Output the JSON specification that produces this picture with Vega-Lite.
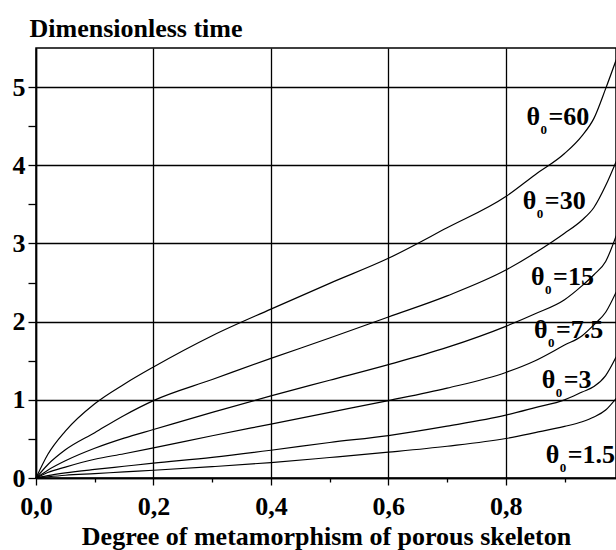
{
  "$schema": "https://vega.github.io/schema/vega-lite/v6.json",
  "width": 580,
  "height": 430,
  "autosize": {"type": "none"},
  "padding": {"left": 36, "top": 48, "right": 0, "bottom": 72},
  "background": "white",
  "config": {
    "view": {"stroke": "black", "strokeWidth": 1.5},
    "font": "Liberation Serif"
  },
  "datasets": {
    "curves": [
      {"theta": "60", "x": 0, "y": 0}, {"theta": "60", "x": 0.02, "y": 0.3}, {"theta": "60", "x": 0.05, "y": 0.6}, {"theta": "60", "x": 0.1, "y": 0.95}, {"theta": "60", "x": 0.15, "y": 1.2}, {"theta": "60", "x": 0.2, "y": 1.42}, {"theta": "60", "x": 0.3, "y": 1.82}, {"theta": "60", "x": 0.4, "y": 2.16}, {"theta": "60", "x": 0.5, "y": 2.49}, {"theta": "60", "x": 0.6, "y": 2.81}, {"theta": "60", "x": 0.7, "y": 3.2}, {"theta": "60", "x": 0.8, "y": 3.6}, {"theta": "60", "x": 0.85, "y": 3.88}, {"theta": "60", "x": 0.9, "y": 4.15}, {"theta": "60", "x": 0.93, "y": 4.38}, {"theta": "60", "x": 0.95, "y": 4.6}, {"theta": "60", "x": 0.97, "y": 4.98}, {"theta": "60", "x": 0.988, "y": 5.35},
      {"theta": "30", "x": 0, "y": 0}, {"theta": "30", "x": 0.02, "y": 0.17}, {"theta": "30", "x": 0.05, "y": 0.36}, {"theta": "30", "x": 0.1, "y": 0.58}, {"theta": "30", "x": 0.15, "y": 0.8}, {"theta": "30", "x": 0.2, "y": 0.99}, {"theta": "30", "x": 0.3, "y": 1.26}, {"theta": "30", "x": 0.4, "y": 1.53}, {"theta": "30", "x": 0.5, "y": 1.79}, {"theta": "30", "x": 0.6, "y": 2.06}, {"theta": "30", "x": 0.7, "y": 2.33}, {"theta": "30", "x": 0.8, "y": 2.66}, {"theta": "30", "x": 0.85, "y": 2.88}, {"theta": "30", "x": 0.9, "y": 3.13}, {"theta": "30", "x": 0.93, "y": 3.3}, {"theta": "30", "x": 0.95, "y": 3.46}, {"theta": "30", "x": 0.97, "y": 3.74}, {"theta": "30", "x": 0.988, "y": 4.05},
      {"theta": "15", "x": 0, "y": 0}, {"theta": "15", "x": 0.02, "y": 0.1}, {"theta": "15", "x": 0.05, "y": 0.22}, {"theta": "15", "x": 0.1, "y": 0.38}, {"theta": "15", "x": 0.15, "y": 0.51}, {"theta": "15", "x": 0.2, "y": 0.62}, {"theta": "15", "x": 0.3, "y": 0.84}, {"theta": "15", "x": 0.4, "y": 1.05}, {"theta": "15", "x": 0.5, "y": 1.25}, {"theta": "15", "x": 0.6, "y": 1.45}, {"theta": "15", "x": 0.7, "y": 1.67}, {"theta": "15", "x": 0.8, "y": 1.94}, {"theta": "15", "x": 0.85, "y": 2.1}, {"theta": "15", "x": 0.9, "y": 2.28}, {"theta": "15", "x": 0.93, "y": 2.46}, {"theta": "15", "x": 0.95, "y": 2.6}, {"theta": "15", "x": 0.97, "y": 2.77}, {"theta": "15", "x": 0.988, "y": 3.1},
      {"theta": "7.5", "x": 0, "y": 0}, {"theta": "7.5", "x": 0.02, "y": 0.07}, {"theta": "7.5", "x": 0.05, "y": 0.14}, {"theta": "7.5", "x": 0.1, "y": 0.24}, {"theta": "7.5", "x": 0.15, "y": 0.31}, {"theta": "7.5", "x": 0.2, "y": 0.385}, {"theta": "7.5", "x": 0.3, "y": 0.54}, {"theta": "7.5", "x": 0.4, "y": 0.69}, {"theta": "7.5", "x": 0.5, "y": 0.84}, {"theta": "7.5", "x": 0.6, "y": 0.99}, {"theta": "7.5", "x": 0.7, "y": 1.15}, {"theta": "7.5", "x": 0.8, "y": 1.35}, {"theta": "7.5", "x": 0.85, "y": 1.5}, {"theta": "7.5", "x": 0.9, "y": 1.7}, {"theta": "7.5", "x": 0.93, "y": 1.82}, {"theta": "7.5", "x": 0.95, "y": 1.96}, {"theta": "7.5", "x": 0.97, "y": 2.12}, {"theta": "7.5", "x": 0.988, "y": 2.38},
      {"theta": "3", "x": 0, "y": 0}, {"theta": "3", "x": 0.02, "y": 0.03}, {"theta": "3", "x": 0.05, "y": 0.065}, {"theta": "3", "x": 0.1, "y": 0.11}, {"theta": "3", "x": 0.15, "y": 0.15}, {"theta": "3", "x": 0.2, "y": 0.19}, {"theta": "3", "x": 0.3, "y": 0.265}, {"theta": "3", "x": 0.4, "y": 0.355}, {"theta": "3", "x": 0.5, "y": 0.454}, {"theta": "3", "x": 0.6, "y": 0.543}, {"theta": "3", "x": 0.7, "y": 0.663}, {"theta": "3", "x": 0.8, "y": 0.804}, {"theta": "3", "x": 0.85, "y": 0.9}, {"theta": "3", "x": 0.9, "y": 1.0}, {"theta": "3", "x": 0.93, "y": 1.1}, {"theta": "3", "x": 0.95, "y": 1.17}, {"theta": "3", "x": 0.97, "y": 1.31}, {"theta": "3", "x": 0.988, "y": 1.55},
      {"theta": "1.5", "x": 0, "y": 0}, {"theta": "1.5", "x": 0.02, "y": 0.015}, {"theta": "1.5", "x": 0.05, "y": 0.035}, {"theta": "1.5", "x": 0.1, "y": 0.056}, {"theta": "1.5", "x": 0.15, "y": 0.078}, {"theta": "1.5", "x": 0.2, "y": 0.099}, {"theta": "1.5", "x": 0.3, "y": 0.145}, {"theta": "1.5", "x": 0.4, "y": 0.197}, {"theta": "1.5", "x": 0.5, "y": 0.262}, {"theta": "1.5", "x": 0.6, "y": 0.33}, {"theta": "1.5", "x": 0.7, "y": 0.406}, {"theta": "1.5", "x": 0.8, "y": 0.505}, {"theta": "1.5", "x": 0.85, "y": 0.58}, {"theta": "1.5", "x": 0.9, "y": 0.66}, {"theta": "1.5", "x": 0.93, "y": 0.72}, {"theta": "1.5", "x": 0.95, "y": 0.78}, {"theta": "1.5", "x": 0.97, "y": 0.87}, {"theta": "1.5", "x": 0.988, "y": 1.02}
    ],
    "labels": [
      {"lab": "=60", "x": 0.835, "y": 4.52},
      {"lab": "=30", "x": 0.829, "y": 3.44},
      {"lab": "=15", "x": 0.843, "y": 2.47},
      {"lab": "=7.5", "x": 0.848, "y": 1.787},
      {"lab": "=3", "x": 0.861, "y": 1.146},
      {"lab": "=1.5", "x": 0.868, "y": 0.192}
    ]
  },
  "encoding": {
    "x": {
      "field": "x", "type": "quantitative",
      "scale": {"domain": [0, 0.9876], "nice": false, "zero": false},
      "axis": {
        "values": [0, 0.1, 0.2, 0.3, 0.4, 0.5, 0.6, 0.7, 0.8, 0.9],
        "labelExpr": "round(datum.value*10) % 2 == 0 ? replace(format(datum.value, '.1f'), '.', ',') : ''",
        "grid": true,
        "gridColor": "black",
        "gridWidth": 1.3,
        "gridOpacity": {"condition": {"test": "round(datum.value*10) % 2 == 0", "value": 1}, "value": 0},
        "tickSize": {"condition": {"test": "round(datum.value*10) % 2 == 0", "value": 7}, "value": 4},
        "tickColor": "black",
        "tickWidth": 1.3,
        "domainColor": "black",
        "domainWidth": 1.5,
        "labelFont": "Liberation Serif",
        "labelFontWeight": "bold",
        "labelFontSize": 26,
        "labelColor": "black",
        "labelPadding": 8,
        "labelOverlap": false,
        "labelFlush": false,
        "title": "Degree of metamorphism of porous skeleton",
        "titleFont": "Liberation Serif",
        "titleFontWeight": "bold",
        "titleFontSize": 26,
        "titleColor": "black",
        "titleBaseline": "alphabetic",
        "titleY": 66
      }
    },
    "y": {
      "field": "y", "type": "quantitative",
      "scale": {"domain": [0, 5.5], "nice": false, "zero": true},
      "axis": {
        "values": [0, 0.5, 1, 1.5, 2, 2.5, 3, 3.5, 4, 4.5, 5],
        "labelExpr": "datum.value % 1 == 0 ? format(datum.value, 'd') : ''",
        "grid": true,
        "gridColor": "black",
        "gridWidth": 1.3,
        "gridOpacity": {"condition": {"test": "datum.value % 1 == 0", "value": 1}, "value": 0},
        "tickSize": 8,
        "tickColor": "black",
        "tickWidth": 1.3,
        "domainColor": "black",
        "domainWidth": 1.5,
        "labelFont": "Liberation Serif",
        "labelFontWeight": "bold",
        "labelFontSize": 26,
        "labelColor": "black",
        "labelPadding": 3,
        "labelOverlap": false,
        "labelFlush": false,
        "title": "Dimensionless time",
        "titleFont": "Liberation Serif",
        "titleFontWeight": "bold",
        "titleFontSize": 26,
        "titleColor": "black",
        "titleAngle": 0,
        "titleAlign": "left",
        "titleBaseline": "alphabetic",
        "titleX": -7,
        "titleY": -12
      }
    }
  },
  "layer": [
    {
      "data": {"name": "curves"},
      "mark": {"type": "line", "color": "black", "strokeWidth": 1.2, "interpolate": "monotone"},
      "encoding": {"detail": {"field": "theta", "type": "nominal"}}
    },
    {
      "data": {"name": "labels"},
      "mark": {"type": "text", "text": "θ", "align": "left", "baseline": "alphabetic", "font": "Liberation Serif", "fontWeight": "bold", "fontSize": 26, "color": "black"}
    },
    {
      "data": {"name": "labels"},
      "mark": {"type": "text", "text": "0", "align": "left", "baseline": "alphabetic", "font": "Liberation Serif", "fontWeight": "bold", "fontSize": 13, "color": "black", "dx": 14, "dy": 9}
    },
    {
      "data": {"name": "labels"},
      "mark": {"type": "text", "align": "left", "baseline": "alphabetic", "font": "Liberation Serif", "fontWeight": "bold", "fontSize": 26, "color": "black", "dx": 22},
      "encoding": {"text": {"field": "lab", "type": "nominal"}}
    }
  ]
}
